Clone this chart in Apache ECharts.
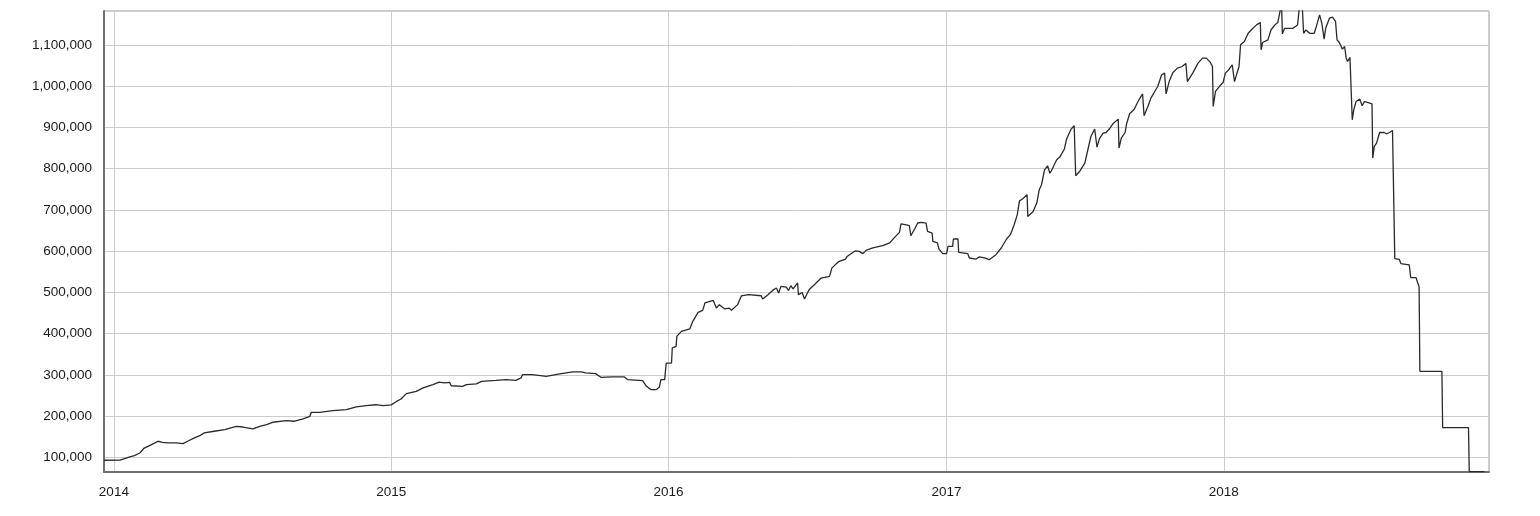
<!DOCTYPE html>
<html>
<head>
<meta charset="utf-8">
<script src="https://cdn.jsdelivr.net/npm/echarts@6/dist/echarts.min.js"></script>
<style>
html,body{margin:0;padding:0;background:#fff;}
#chart{width:1540px;height:516px;}
</style>
</head>
<body>
<div id="chart"></div>
<script>
// ---- data ----
const dates2014 = ['2013-12-19','2014-01-09','2014-01-22','2014-01-28','2014-02-04','2014-02-10','2014-02-17','2014-02-24','2014-02-28','2014-03-06','2014-03-13','2014-03-24','2014-04-02','2014-04-08','2014-04-17','2014-04-24','2014-04-30','2014-05-13','2014-05-27','2014-06-11','2014-06-20','2014-07-03','2014-07-12','2014-07-21','2014-07-29','2014-08-16','2014-08-27','2014-09-07','2014-09-16','2014-09-18','2014-09-29','2014-10-16','2014-11-03','2014-11-16','2014-11-29','2014-12-12','2014-12-21'];
const values2014 = [93500,94000,101700,104800,111000,123000,129000,135600,139500,137000,135600,135600,133900,139500,147700,153000,159800,163700,167800,175800,174000,169500,175800,180000,185500,189600,188000,193700,200000,209700,209700,213800,216000,222800,226000,228000,226000];

const dates2015 = ['2015-01-01','2015-01-08','2015-01-14','2015-01-21','2015-02-03','2015-02-12','2015-02-25','2015-03-05','2015-03-12','2015-03-19','2015-03-21','2015-04-05','2015-04-10','2015-04-23','2015-04-30','2015-05-19','2015-06-01','2015-06-14','2015-06-21','2015-06-23','2015-07-06','2015-07-24','2015-08-11','2015-08-28','2015-09-08','2015-09-14','2015-09-27','2015-10-04','2015-10-19','2015-11-04','2015-11-08','2015-11-28','2015-12-03','2015-12-09','2015-12-16','2015-12-20','2015-12-22','2015-12-27','2015-12-29'];
const values2015 = [227600,236000,242000,255000,260500,268800,276800,283000,280900,282000,274000,272600,276800,278500,284700,287000,288900,287000,293000,301000,301000,296900,302700,307500,307500,305000,303400,294400,295400,295400,288900,286400,272600,264600,264600,271000,288900,288900,329000];

const dates2016 = ['2016-01-05','2016-01-06','2016-01-11','2016-01-12','2016-01-18','2016-01-29','2016-02-02','2016-02-09','2016-02-15','2016-02-18','2016-02-29','2016-03-04','2016-03-08','2016-03-15','2016-03-21','2016-03-24','2016-04-01','2016-04-06','2016-04-15','2016-05-02','2016-05-04','2016-05-11','2016-05-17','2016-05-22','2016-05-25','2016-05-28','2016-06-04','2016-06-07','2016-06-10','2016-06-13','2016-06-19','2016-06-20','2016-06-25','2016-06-28','2016-07-04','2016-07-11','2016-07-20','2016-07-31','2016-08-03','2016-08-12','2016-08-21','2016-08-23','2016-09-03','2016-09-08','2016-09-13','2016-09-17','2016-09-26','2016-10-09','2016-10-18','2016-10-25','2016-10-31','2016-11-02','2016-11-09','2016-11-13','2016-11-15','2016-11-20','2016-11-24','2016-11-29','2016-12-05','2016-12-07','2016-12-13','2016-12-14','2016-12-20','2016-12-22','2016-12-27'];
const values2016 = [329000,366000,369500,393700,405800,411600,430000,451900,456700,474500,480800,462500,470500,460000,462000,456700,470500,492000,494700,492000,484300,494700,505000,511000,498800,514800,513000,505000,516500,508500,523000,494700,500000,484000,506800,518900,535000,539000,559000,575000,581000,587000,601000,599500,594000,602000,607800,613300,620000,634000,645500,666000,664000,661700,637500,653700,668300,670000,668000,648000,644000,623700,620000,605000,594000];

const dates2017 = ['2017-01-01','2017-01-03','2017-01-09','2017-01-10','2017-01-16','2017-01-17','2017-01-29','2017-01-31','2017-02-09','2017-02-13','2017-02-20','2017-02-26','2017-03-07','2017-03-14','2017-03-21','2017-03-26','2017-03-31','2017-04-04','2017-04-07','2017-04-11','2017-04-17','2017-04-18','2017-04-25','2017-04-30','2017-05-03','2017-05-06','2017-05-10','2017-05-14','2017-05-17','2017-05-19','2017-05-26','2017-05-30','2017-06-05','2017-06-08','2017-06-14','2017-06-18','2017-06-20','2017-06-25','2017-07-02','2017-07-06','2017-07-10','2017-07-15','2017-07-17','2017-07-18','2017-07-21','2017-07-26','2017-07-30','2017-08-04','2017-08-08','2017-08-15','2017-08-16','2017-08-19','2017-08-24','2017-08-26','2017-08-30','2017-09-05','2017-09-10','2017-09-16','2017-09-18','2017-09-23','2017-09-27','2017-10-02','2017-10-06','2017-10-11','2017-10-15','2017-10-17','2017-10-21','2017-10-26','2017-11-01','2017-11-07','2017-11-12','2017-11-14','2017-11-21','2017-11-28','2017-12-04','2017-12-09','2017-12-14','2017-12-17','2017-12-18','2017-12-21','2017-12-26','2017-12-31'];
const values2017 = [594000,611600,611600,629500,629500,597000,594000,583500,581000,586000,584000,579400,591500,607800,629500,640000,664000,688000,722000,726400,736800,684000,696000,718000,749000,761000,797000,807000,789000,795000,821500,828000,847000,871700,895900,903900,782800,793000,813600,845800,878000,896000,898000,852000,871700,886000,887600,898000,908700,920000,850000,874000,887600,908700,933000,944000,962700,981000,928000,950600,970900,987000,999000,1027000,1031500,981000,1011000,1033000,1043600,1047500,1055000,1011000,1031500,1055600,1067700,1067700,1058000,1047500,950600,987000,999000,1008700];

const dates2018 = ['2018-01-03','2018-01-08','2018-01-12','2018-01-15','2018-01-18','2018-01-21','2018-01-23','2018-01-28','2018-02-02','2018-02-07','2018-02-13','2018-02-18','2018-02-19','2018-02-21','2018-02-28','2018-03-04','2018-03-09','2018-03-13','2018-03-18','2018-03-19','2018-03-22','2018-04-02','2018-04-08','2018-04-11','2018-04-14','2018-04-16','2018-04-19','2018-04-24','2018-04-30','2018-05-03','2018-05-07','2018-05-10','2018-05-13','2018-05-15','2018-05-20','2018-05-24','2018-05-28','2018-05-30','2018-06-02','2018-06-06','2018-06-09','2018-06-11','2018-06-13','2018-06-16','2018-06-18','2018-06-19','2018-06-21','2018-06-24','2018-06-29','2018-07-02','2018-07-05','2018-07-10','2018-07-15','2018-07-16','2018-07-18','2018-07-21','2018-07-25','2018-07-31','2018-08-03','2018-08-07','2018-08-11','2018-08-13','2018-08-14','2018-08-20','2018-08-22','2018-09-02','2018-09-04','2018-09-11','2018-09-13','2018-09-15','2018-09-16','2018-10-15','2018-10-16','2018-11-19','2018-11-20','2018-12-10'];
const values2018 = [1031500,1041000,1051600,1011000,1029800,1047500,1100000,1108000,1128000,1137800,1148400,1154000,1088000,1105600,1112000,1136000,1148000,1154000,1200000,1126600,1140000,1140000,1148000,1200000,1200000,1128000,1136000,1128000,1128000,1146000,1172600,1152000,1113800,1140000,1164600,1167000,1156600,1112000,1105600,1089600,1096000,1067800,1059600,1070000,1070000,918400,942600,962700,968500,952300,962700,960000,957000,825700,853800,862000,887600,887600,884500,887600,892500,892500,581800,580000,570000,567000,536000,536000,524000,514000,309000,309000,172600,172600,66000,66000];

const axisStart = '2013-12-19';
const axisEnd = '2018-12-16';
const valueMin = 65000;
const valueMax = 1182000;

// ---- build ----
const allDates = [].concat(dates2014, dates2015, dates2016, dates2017, dates2018);
const allValues = [].concat(values2014, values2015, values2016, values2017, values2018);
const seriesData = allDates.map((d, i) => [d, allValues[i]]);

function toTime(s) { const p = s.split('-').map(Number); return new Date(p[0], p[1] - 1, p[2]).getTime(); }
const DAY = 86400000;

const chart = echarts.init(document.getElementById('chart'), null, {renderer: 'canvas'});
chart.setOption({
  animation: false,
  backgroundColor: '#ffffff',
  grid: {
    left: 104, right: 51, top: 11, bottom: 44,
    show: true, borderColor: '#999999', borderWidth: 1, backgroundColor: 'transparent'
  },
  xAxis: {
    type: 'time',
    min: toTime(axisStart),
    max: toTime(axisEnd),
    splitNumber: 5,
    minInterval: 365 * DAY,
    maxInterval: 366 * DAY,
    axisLine: {show: true, lineStyle: {color: '#707070', width: 2}},
    axisTick: {show: false},
    axisLabel: {
      color: '#1a1a1a', fontSize: 13.5, fontFamily: '"Liberation Sans", Arial, sans-serif',
      margin: 13, showMinLabel: false, showMaxLabel: false,
      formatter: v => String(new Date(v).getFullYear())
    },
    splitLine: {show: true, lineStyle: {color: '#cccccc', width: 1}}
  },
  yAxis: {
    type: 'value',
    min: valueMin,
    max: valueMax,
    splitNumber: 11,
    axisLine: {show: true, lineStyle: {color: '#707070', width: 2}},
    axisTick: {show: false},
    axisLabel: {
      color: '#1a1a1a', fontSize: 13.5, fontFamily: '"Liberation Sans", Arial, sans-serif',
      margin: 12, showMinLabel: false, showMaxLabel: false,
      formatter: v => Number(v).toLocaleString('en-US')
    },
    splitLine: {show: true, lineStyle: {color: '#cccccc', width: 1}}
  },
  series: [{
    type: 'line',
    data: seriesData,
    symbol: 'none',
    showSymbol: false,
    clip: true,
    lineStyle: {color: '#2a2a2a', width: 1.3},
    emphasis: {disabled: true}
  }]
});
</script>
</body>
</html>
